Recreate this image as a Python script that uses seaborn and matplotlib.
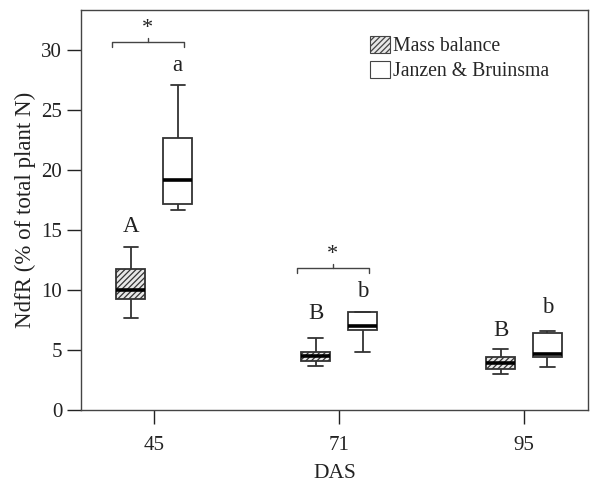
import numpy as np
import pandas as pd
import matplotlib
matplotlib.use("Agg")
import matplotlib.pyplot as plt
from matplotlib.patches import Patch
import seaborn as sns

# ---- data (five-number summaries) ----
das = ["45", "71", "95"]
methods = ["Mass balance", "Janzen & Bruinsma"]
# [min, q1, median, q3, max]
mass_balance = [
    [7.7, 9.25, 10.0, 11.75, 13.6],
    [3.7, 4.1, 4.5, 4.85, 6.0],
    [3.0, 3.4, 3.9, 4.4, 5.1],
]
janzen = [
    [16.7, 17.2, 19.2, 22.7, 27.1],
    [4.85, 6.7, 7.0, 8.15, 8.15],
    [3.55, 4.45, 4.7, 6.45, 6.55],
]
letters_mb = ["A", "B", "B"]
letters_jb = ["a", "b", "b"]
letter_y_mb = [15.3, 8.0, 6.6]
letter_y_jb = [28.7, 9.9, 8.5]
star_groups = ["45", "71"]
bracket_y = [30.7, 11.85]

rows = []
for d, mb, jb in zip(das, mass_balance, janzen):
    for v in mb:
        rows.append({"DAS": d, "NdfR": v, "Method": methods[0]})
    for v in jb:
        rows.append({"DAS": d, "NdfR": v, "Method": methods[1]})
df = pd.DataFrame(rows)

sns.set_theme(style="ticks")
plt.rcParams["font.family"] = ["Liberation Serif", "DejaVu Serif"]
plt.rcParams["hatch.linewidth"] = 0.9
plt.rcParams["hatch.color"] = "#555555"

fig = plt.figure(figsize=(5.91, 4.87), dpi=100)
ax = fig.add_axes([81 / 591, 1 - 410 / 487, (588 - 81) / 591, 400 / 487])

W = 0.508
GAP = 0.4
sns.boxplot(
    data=df, x="DAS", y="NdfR", hue="Method", order=das, hue_order=methods,
    whis=(0, 100), width=W, gap=GAP, palette={m: "white" for m in methods},
    linecolor="#333333", linewidth=1.3,
    medianprops=dict(color="black", linewidth=2.6),
    legend=False, ax=ax,
)

# hatch the Mass balance boxes (left-dodged boxes)
for p in ax.patches:
    ext = p.get_path().get_extents()
    cx = (ext.x0 + ext.x1) / 2
    if cx < round(cx):
        p.set_hatch("//////")
        p.set_facecolor("#e8e8e8")

ax.set_ylim(0, 33.33)
ax.set_xlim(-0.395, 2.346)
ax.set_yticks([0, 5, 10, 15, 20, 25, 30])
ax.set_xlabel("DAS", fontsize=15.5, color="#222222", labelpad=6)
ax.set_ylabel("NdfR (% of total plant N)", fontsize=16.5, color="#222222", labelpad=4)
ax.tick_params(axis="both", labelsize=15, colors="#222222", length=10, width=1.0, direction="out")
ax.tick_params(axis="x", pad=9)
for s in ax.spines.values():
    s.set_visible(True)
    s.set_color("#444444")
    s.set_linewidth(1.0)

off = W / 4
# letters
for i, (lm, lj, ym, yj) in enumerate(zip(letters_mb, letters_jb, letter_y_mb, letter_y_jb)):
    ax.text(i - off, ym, lm, ha="center", va="center", fontsize=16.5, color="#222222")
    ax.text(i + off, yj, lj, ha="center", va="center", fontsize=16.5, color="#222222")

# significance brackets
for g, by in zip(star_groups, bracket_y):
    i = das.index(g)
    xl, xr = i - 0.227, i + 0.16
    xm = (xl + xr) / 2
    ax.plot([xl, xl, xr, xr], [by - 0.45, by, by, by - 0.45], color="#444444", lw=1.0)
    ax.plot([xm, xm], [by, by + 0.3], color="#444444", lw=1.0)
    ax.text(xm, by + 0.3, "*", ha="center", va="bottom", fontsize=16, color="#222222")

handles = [
    Patch(facecolor="#e8e8e8", edgecolor="#444444", hatch="//////", lw=0.8),
    Patch(facecolor="white", edgecolor="#444444", lw=0.8),
]
ax.legend(handles, methods, loc="upper left",
          bbox_to_anchor=((372 - 81) / (588 - 81) - 0.012, 1 - (36 - 10) / 400 + 0.01),
          frameon=False, fontsize=14.2, handlelength=1.0, handleheight=0.95,
          handletextpad=0.15, labelspacing=0.22, borderaxespad=0, borderpad=0.2)

fig.savefig("out.png", dpi=100)
